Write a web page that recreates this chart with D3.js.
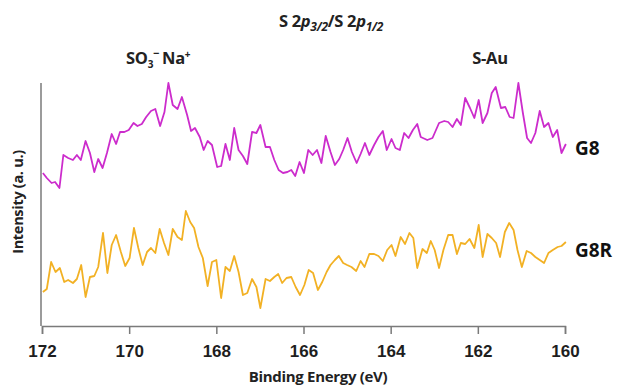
<!DOCTYPE html>
<html>
<head>
<meta charset="utf-8">
<script src="https://cdn.jsdelivr.net/npm/d3@7"></script>
<style>
  body { margin: 0; background: #fff; }
  svg { display: block; }
</style>
</head>
<body>
<script>
var svgWidth = 624,
    svgHeight = 389;

// G8 spectrum (magenta)
var g8Energy = [171.98,171.89,171.78,171.70,171.60,171.51,171.40,171.29,171.20,171.11,171.00,170.90,170.80,170.71,170.61,170.51,170.40,170.30,170.21,170.11,170.01,169.90,169.81,169.71,169.61,169.50,169.40,169.29,169.19,169.10,169.00,168.89,168.79,168.67,168.58,168.49,168.38,168.29,168.20,168.10,167.98,167.89,167.79,167.69,167.59,167.49,167.39,167.29,167.18,167.08,166.99,166.87,166.77,166.67,166.57,166.47,166.37,166.28,166.19,166.09,165.99,165.89,165.79,165.69,165.59,165.49,165.38,165.28,165.18,165.09,164.99,164.89,164.78,164.69,164.59,164.49,164.38,164.28,164.18,164.09,163.98,163.89,163.79,163.69,163.59,163.49,163.39,163.31,163.16,163.04,162.89,162.77,162.68,162.58,162.48,162.39,162.29,162.18,162.08,161.98,161.89,161.78,161.68,161.59,161.47,161.37,161.27,161.18,161.07,160.97,160.87,160.78,160.68,160.58,160.48,160.38,160.28,160.18,160.08,159.98];
var g8Intensity = [153,148,143,144,138,171,168,166,171,166,185,173,154,167,158,173,192,182,194,194,196,203,200,202,209,215,217,200,214,243,221,217,229,211,195,198,189,176,185,181,159,160,182,166,198,176,170,162,194,193,201,179,179,166,156,153,154,156,150,164,153,176,171,176,163,190,174,161,167,176,188,174,163,172,183,171,181,189,195,176,187,178,176,193,188,196,202,189,186,188,203,205,204,199,207,201,228,218,208,226,203,213,233,239,218,219,209,208,243,214,188,183,193,215,199,203,189,196,173,182];

// G8R spectrum (orange)
var g8rEnergy = [171.98,171.89,171.79,171.69,171.59,171.49,171.40,171.29,171.20,171.10,171.00,170.90,170.80,170.71,170.60,170.50,170.40,170.30,170.19,170.09,169.99,169.89,169.79,169.69,169.59,169.50,169.40,169.30,169.20,169.10,169.00,168.89,168.79,168.70,168.60,168.51,168.41,168.31,168.20,168.10,168.00,167.89,167.79,167.69,167.59,167.49,167.39,167.29,167.18,167.08,166.99,166.87,166.77,166.67,166.58,166.49,166.39,166.28,166.18,166.08,165.98,165.88,165.78,165.67,165.57,165.47,165.38,165.28,165.19,165.09,165.00,164.90,164.79,164.69,164.60,164.49,164.38,164.28,164.18,164.08,163.98,163.89,163.77,163.67,163.57,163.48,163.39,163.27,163.17,163.08,162.99,162.89,162.79,162.68,162.58,162.48,162.39,162.29,162.19,162.08,161.98,161.89,161.78,161.68,161.58,161.49,161.38,161.28,161.18,161.09,160.99,160.88,160.78,160.68,160.58,160.48,160.38,160.28,160.17,160.08,159.98];
var g8rIntensity = [34,37,64,54,58,44,46,43,47,61,29,49,50,59,93,53,81,91,74,60,68,98,78,61,74,78,73,97,83,71,97,89,86,115,104,98,79,68,40,64,66,28,59,55,70,54,31,33,47,39,18,47,45,49,52,43,48,49,39,31,41,56,53,36,44,54,61,66,70,63,61,59,55,65,59,72,72,70,65,76,81,70,89,82,93,88,58,77,73,85,76,58,76,91,91,72,83,82,87,78,101,69,92,88,83,69,94,103,96,76,59,75,73,69,66,63,73,76,79,80,84];

var xTicks = [172, 170, 168, 166, 164, 162, 160];

var margin = { left: 41, right: 565, top: 83, bottom: 326 };

var svg = d3.select("body").append("svg")
    .attr("width", svgWidth)
    .attr("height", svgHeight);

var x = d3.scaleLinear().domain([172, 160]).range([margin.left + 1, margin.right]);
var y = d3.scaleLinear().domain([0, 243]).range([margin.bottom, margin.top]);

// lines
var makeLine = function(xs, ys) {
    return d3.line()
        .x(function(d, i) { return x(xs[i]); })
        .y(function(d, i) { return y(ys[i]); })(ys);
};

svg.append("path")
    .attr("d", makeLine(g8Energy, g8Intensity))
    .attr("fill", "none")
    .attr("stroke", "#cc2ccc")
    .attr("stroke-width", 1.8)
    .attr("stroke-linejoin", "round");

svg.append("path")
    .attr("d", makeLine(g8rEnergy, g8rIntensity))
    .attr("fill", "none")
    .attr("stroke", "#f2b124")
    .attr("stroke-width", 1.8)
    .attr("stroke-linejoin", "round");

// axes
var xAxis = svg.append("g")
    .attr("transform", "translate(0," + margin.bottom + ")")
    .call(d3.axisBottom(x).tickValues(xTicks).tickSize(8).tickPadding(11).tickFormat(d3.format("d")));
xAxis.selectAll("path, line").attr("stroke", "#7a7a7a").attr("stroke-width", 1.5);
xAxis.selectAll("text")
    .attr("fill", "#1e1e1e")
    .style("font-family", "Liberation Sans, Arial, sans-serif")
    .style("font-weight", "bold")
    .style("font-size", "17px");

svg.append("line")
    .attr("x1", margin.left).attr("x2", margin.left)
    .attr("y1", margin.top).attr("y2", margin.bottom)
    .attr("stroke", "#7a7a7a")
    .attr("stroke-width", 1.5);

var labelFont = "'Open Sans', 'Noto Sans', sans-serif";

svg.append("text")
    .attr("x", 318).attr("y", 382)
    .attr("text-anchor", "middle")
    .style("font-family", labelFont)
    .style("font-weight", "bold")
    .style("font-size", "15px")
    .style("letter-spacing", "-0.3px")
    .attr("fill", "#222")
    .text("Binding Energy (eV)");

svg.append("text")
    .attr("transform", "translate(23,202) rotate(-90)")
    .attr("text-anchor", "middle")
    .style("font-family", labelFont)
    .style("font-weight", "bold")
    .style("font-size", "14.5px")
    .style("letter-spacing", "-0.3px")
    .attr("fill", "#222")
    .text("Intensity (a. u.)");

// title with subscripts
var title = svg.append("text")
    .attr("x", 331).attr("y", 27)
    .attr("text-anchor", "middle")
    .style("font-family", labelFont)
    .style("font-weight", "bold")
    .style("font-size", "16.5px")
    .style("letter-spacing", "-0.3px")
    .attr("fill", "#222");
title.append("tspan").text("S 2");
title.append("tspan").style("font-style", "italic").text("p");
title.append("tspan").attr("dy", 4).style("font-size", "12px").style("font-style", "italic").text("3/2");
title.append("tspan").attr("dy", -4).text("/S 2");
title.append("tspan").style("font-style", "italic").text("p");
title.append("tspan").attr("dy", 4).style("font-size", "12px").style("font-style", "italic").text("1/2");

// peak annotations
var so3 = svg.append("text")
    .attr("x", 126).attr("y", 64)
    .style("font-family", labelFont)
    .style("font-weight", "bold")
    .style("font-size", "16.5px")
    .style("letter-spacing", "-0.3px")
    .attr("fill", "#222");
so3.append("tspan").text("SO");
so3.append("tspan").attr("dy", 4).style("font-size", "10px").text("3");
so3.append("tspan").attr("dx", 0).attr("dy", -11).style("font-size", "11px").text("\u2212");
so3.append("tspan").attr("dx", 3).attr("dy", 7).text("Na");
so3.append("tspan").attr("dy", -6).style("font-size", "10px").text("+");

svg.append("text")
    .attr("x", 490).attr("y", 64)
    .attr("text-anchor", "middle")
    .style("font-family", labelFont)
    .style("font-weight", "bold")
    .style("font-size", "16.5px")
    .style("letter-spacing", "-0.3px")
    .attr("fill", "#222")
    .text("S-Au");

// series labels
var seriesLabels = ["G8", "G8R"];
var seriesLabelY = [148, 250];
svg.selectAll(".series-label")
    .data(seriesLabels)
    .enter()
    .append("text")
    .attr("class", "series-label")
    .attr("x", 575)
    .attr("y", function(d, i) { return seriesLabelY[i]; })
    .attr("dy", "0.35em")
    .style("font-family", labelFont)
    .style("font-weight", "bold")
    .style("font-size", "19px")
    .attr("fill", "#111")
    .text(function(d) { return d; });
</script>
</body>
</html>
